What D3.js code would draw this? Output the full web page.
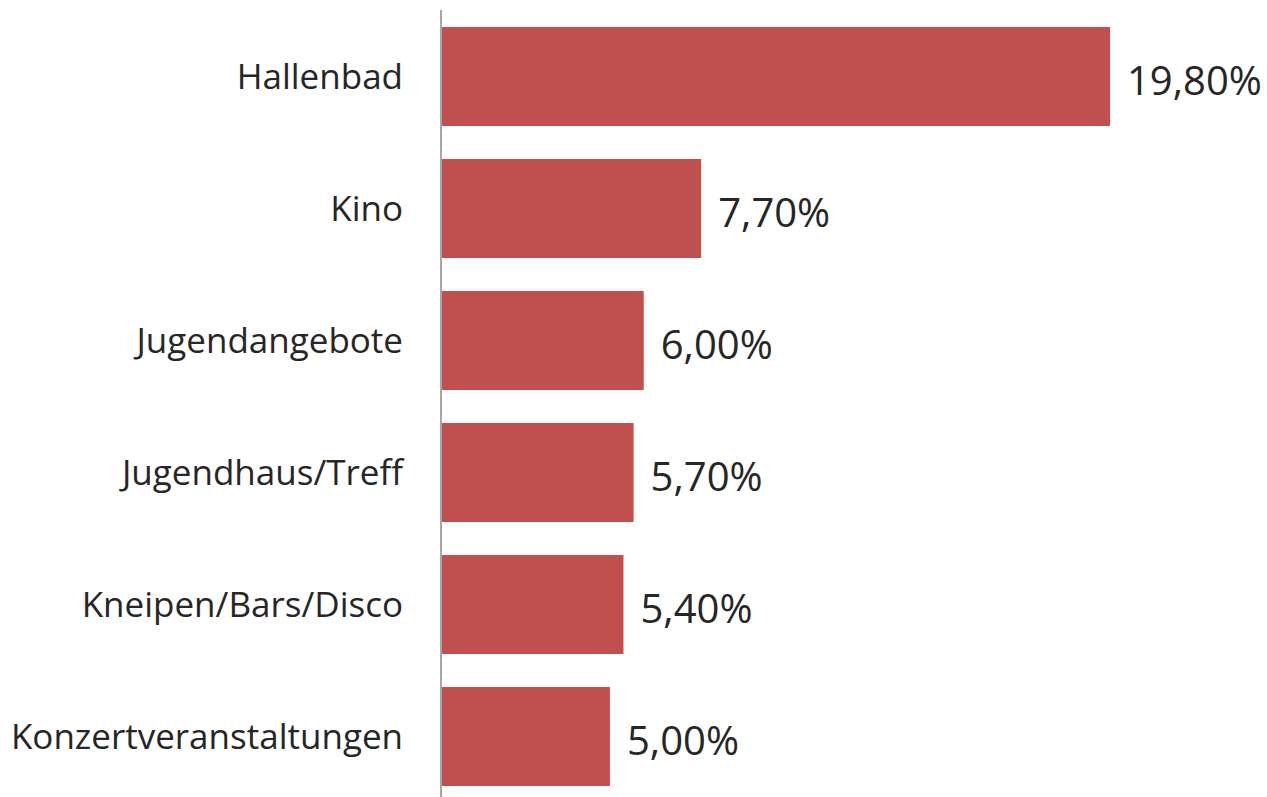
<!DOCTYPE html>
<html>
<head>
<meta charset="utf-8">
<script src="https://cdn.jsdelivr.net/npm/d3@7"></script>
<style>
  html, body { margin: 0; padding: 0; background: #fff; }
  svg { display: block; }
</style>
</head>
<body>
<svg id="chart" width="1267" height="797"></svg>
<script>
// chart data
var categories = ["Hallenbad", "Kino", "Jugendangebote", "Jugendhaus/Treff", "Kneipen/Bars/Disco", "Konzertveranstaltungen"];
var values = [19.8, 7.7, 6.0, 5.7, 5.4, 5.0];
var valueLabels = ["19,80%", "7,70%", "6,00%", "5,70%", "5,40%", "5,00%"];

var width = 1267, height = 797;
var axisX = 441;
var svg = d3.select("#chart");

var x = d3.scaleLinear()
    .domain([0, 19.8])
    .range([axisX, 1110]);

var y = d3.scaleBand()
    .domain(categories)
    .range([10.5, 802.5])
    .paddingInner(0.25)
    .paddingOuter(0.125);

// bars
svg.append("g").selectAll("rect")
    .data(categories)
    .enter()
    .append("rect")
    .attr("x", x(0))
    .attr("y", function (d) { return y(d); })
    .attr("width", function (d, i) { return x(values[i]) - x(0); })
    .attr("height", y.bandwidth())
    .attr("fill", "#C0504D");

// category axis
var yAxis = d3.axisLeft(y).tickSize(0).tickPadding(38);
var g = svg.append("g")
    .attr("transform", "translate(" + axisX + ",0)")
    .call(yAxis);
g.select(".domain").remove();
g.selectAll("text")
    .attr("font-family", "'Open Sans', sans-serif")
    .attr("font-size", 35)
    .attr("fill", "#262626")
    .attr("dy", "0.36em");

svg.append("line")
    .attr("x1", axisX).attr("x2", axisX)
    .attr("y1", 10).attr("y2", height)
    .attr("stroke", "#a6a6a6")
    .attr("stroke-width", 2);

// value labels
svg.append("g").selectAll("text")
    .data(categories)
    .enter()
    .append("text")
    .attr("x", function (d, i) { return x(values[i]) + 17; })
    .attr("y", function (d) { return y(d) + y.bandwidth() / 2; })
    .attr("dy", "0.46em")
    .attr("font-family", "'Open Sans', sans-serif")
    .attr("font-size", 40)
    .attr("fill", "#262626")
    .text(function (d, i) { return valueLabels[i]; });
</script>
</body>
</html>
